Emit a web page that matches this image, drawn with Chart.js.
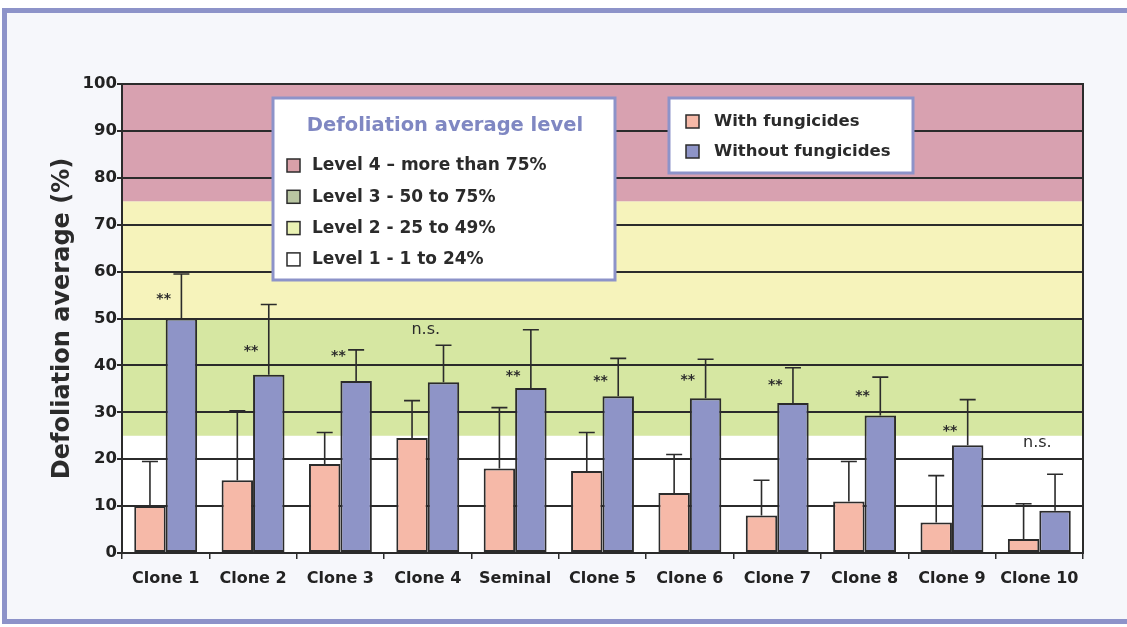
<!DOCTYPE html>
<html>
<head>
<meta charset="utf-8">
<script src="https://cdn.jsdelivr.net/npm/chart.js@4"></script>
<style>
  body { margin: 0; background: #ffffff; }
  .frame {
    position: absolute; left: 2px; top: 8px; width: 1140px; height: 606px;
    border: 5px solid #8d93c9; background: #f6f7fb;
  }
  #myChart { position: absolute; left: 0; top: 0; }
</style>
</head>
<body>
<div class="frame"></div>
<canvas id="myChart" width="1127" height="627"></canvas>
<script>
const labels = ["Clone 1", "Clone 2", "Clone 3", "Clone 4", "Seminal", "Clone 5",
  "Clone 6", "Clone 7", "Clone 8", "Clone 9", "Clone 10"];
const withFungicides = [10, 15.5, 19, 24.5, 18, 17.5, 12.8, 8, 11, 6.5, 3];
const withErrTop = [19.5, 30.3, 25.7, 32.5, 31, 25.7, 21, 15.5, 19.5, 16.5, 10.5];
const withoutFungicides = [50, 38, 36.7, 36.4, 35.2, 33.4, 33, 32, 29.3, 23, 9];
const withoutErrTop = [59.5, 53, 43.3, 44.3, 47.6, 41.5, 41.3, 39.5, 37.5, 32.7, 16.8];
const sigLabels = ["**", "**", "**", "n.s.", "**", "**", "**", "**", "**", "**", "n.s."];
const sigValues = [54, 43, 42, 47.5, 37.7, 36.6, 36.8, 35.8, 33.5, 25.9, 23.5];

// background levels
const bandFrom = [0, 25, 50, 75];
const bandTo = [25, 50, 75, 100];
const bandColors = ["#ffffff", "#d6e7a2", "#f6f3bb", "#d8a1b0"];
const levelLabels = ["Level 4 \u2013 more than 75%", "Level 3 - 50 to 75%",
  "Level 2 - 25 to 49%", "Level 1 - 1 to 24%"];
const levelSwatches = ["#d9a0a8", "#b9c6a2", "#eaf2b4", "#ffffff"];

const ink = "#2b2b2b";
const fontFam = "'DejaVu Sans', Verdana, sans-serif";

const bandsPlugin = {
  id: "bands",
  beforeDraw(chart) {
    const { ctx, chartArea, scales } = chart;
    ctx.save();
    bandFrom.forEach((from, i) => {
      const y1 = scales.y.getPixelForValue(bandTo[i]);
      const y2 = scales.y.getPixelForValue(from);
      ctx.fillStyle = bandColors[i];
      ctx.fillRect(chartArea.left, y1, chartArea.right - chartArea.left, y2 - y1);
    });
    ctx.restore();
  },
};

const errorBarsPlugin = {
  id: "errorBars",
  afterDatasetsDraw(chart) {
    const { ctx, scales } = chart;
    const tops = [withErrTop, withoutErrTop];
    ctx.save();
    ctx.strokeStyle = ink;
    ctx.lineWidth = 1.6;
    chart.data.datasets.forEach((ds, di) => {
      chart.getDatasetMeta(di).data.forEach((bar, i) => {
        const yTop = scales.y.getPixelForValue(tops[di][i]);
        ctx.beginPath();
        ctx.moveTo(bar.x, bar.y);
        ctx.lineTo(bar.x, yTop);
        ctx.moveTo(bar.x - 8, yTop);
        ctx.lineTo(bar.x + 8, yTop);
        ctx.stroke();
      });
    });
    // significance marks
    ctx.fillStyle = ink;
    ctx.textAlign = "center";
    ctx.textBaseline = "middle";
    labels.forEach((l, i) => {
      const x = scales.x.getPixelForValue(i) - 2;
      const y = scales.y.getPixelForValue(sigValues[i]);
      ctx.font = sigLabels[i] === "**" ? "bold 14px " + fontFam : "16px " + fontFam;
      ctx.fillText(sigLabels[i], x, y);
    });
    ctx.restore();
  },
};

const legendBoxesPlugin = {
  id: "legendBoxes",
  afterDraw(chart) {
    const { ctx, chartArea } = chart;
    ctx.save();
    // plot frame
    ctx.strokeStyle = ink;
    ctx.lineWidth = 2;
    ctx.strokeRect(chartArea.left, chartArea.top, chartArea.right - chartArea.left,
      chartArea.bottom - chartArea.top);

    const box = (x, y, w, h) => {
      ctx.fillStyle = "#ffffff";
      ctx.fillRect(x, y, w, h);
      ctx.strokeStyle = "#8d93c9";
      ctx.lineWidth = 3;
      ctx.strokeRect(x, y, w, h);
    };
    const swatch = (x, y, color) => {
      ctx.fillStyle = color;
      ctx.fillRect(x, y - 7, 13, 13);
      ctx.strokeStyle = ink;
      ctx.lineWidth = 1.5;
      ctx.strokeRect(x, y - 7, 13, 13);
    };

    // level legend
    box(273, 98, 342, 182);
    ctx.textBaseline = "middle";
    ctx.textAlign = "center";
    ctx.fillStyle = "#7f87c2";
    ctx.font = "bold 19.5px " + fontFam;
    ctx.fillText("Defoliation average level", 445, 126);
    ctx.textAlign = "left";
    ctx.font = "bold 17px " + fontFam;
    levelLabels.forEach((t, i) => {
      const y = 166 + i * 31.3;
      swatch(287, y, levelSwatches[i]);
      ctx.fillStyle = ink;
      ctx.fillText(t, 312, y);
    });

    // series legend
    box(669, 98, 244, 75);
    ctx.font = "bold 16.5px " + fontFam;
    chart.data.datasets.forEach((ds, i) => {
      const y = 122 + i * 30;
      swatch(686, y, ds.backgroundColor);
      ctx.fillStyle = ink;
      ctx.fillText(ds.label, 714, y);
    });
    ctx.restore();
  },
};

const ctx = document.getElementById("myChart");
new Chart(ctx, {
  type: "bar",
  data: {
    labels: labels,
    datasets: [
      {
        label: "With fungicides",
        data: withFungicides,
        backgroundColor: "#f6b9a8",
        borderColor: ink,
        borderWidth: 2,
        borderSkipped: false,
      },
      {
        label: "Without fungicides",
        data: withoutFungicides,
        backgroundColor: "#8e94c7",
        borderColor: ink,
        borderWidth: 2,
        borderSkipped: false,
      },
    ],
  },
  options: {
    responsive: false,
    animation: false,
    layout: { padding: { left: 48, top: 84, right: 44, bottom: 0 } },
    datasets: { bar: { categoryPercentage: 0.72, barPercentage: 1.0 } },
    plugins: { legend: { display: false }, tooltip: { enabled: false } },
    scales: {
      x: {
        afterFit: (scale) => { scale.height = 74; },
        grid: { drawOnChartArea: false, offset: true, tickLength: 6, color: ink, lineWidth: 1.5 },
        border: { display: true, color: ink, width: 2 },
        ticks: { color: "#222", padding: 10, font: { family: fontFam, size: 16, weight: "bold" } },
      },
      y: {
        min: 0,
        max: 100,
        afterFit: (scale) => { scale.width = 74; },
        ticks: { stepSize: 10, color: "#222", padding: 0, font: { family: fontFam, size: 16.5, weight: "bold" } },
        grid: { color: ink, lineWidth: 2, tickLength: 5 },
        border: { display: true, color: ink, width: 2 },
        title: {
          display: true,
          text: "Defoliation average (%)",
          color: ink,
          padding: 0,
          font: { family: fontFam, size: 24, weight: "bold" },
        },
      },
    },
  },
  plugins: [bandsPlugin, errorBarsPlugin, legendBoxesPlugin],
});
</script>
</body>
</html>
